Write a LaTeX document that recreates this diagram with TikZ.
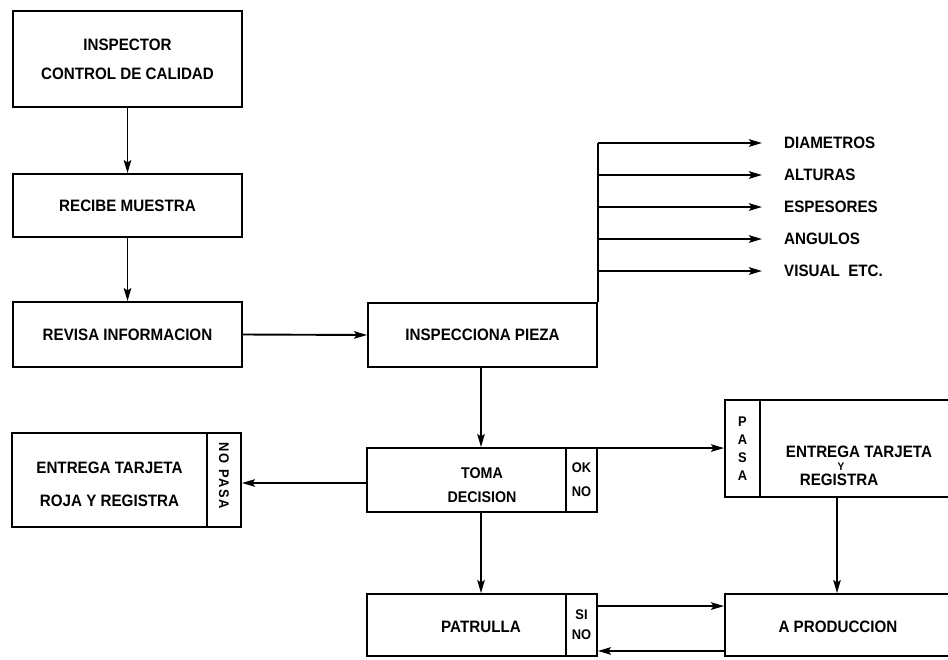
\documentclass[tikz,border=0pt]{standalone}
\usepackage{fontspec}
\setmainfont{Liberation Sans}
\newfontfamily\dgff{Liberation Sans}[FakeStretch=0.92]
\usetikzlibrary{arrows.meta,calc}
\newcommand\dgfont{\dgff\bfseries\fontsize{16.5}{18}\selectfont}
\begin{document}
\begin{tikzpicture}[x=1pt,y=-1pt,
  every node/.style={inner sep=0pt},
  box/.style={draw, line width=1.9pt, rectangle, align=center, font=\dgfont},
  txt/.style={align=center, font=\dgfont},
  arr/.style={line width=1.9pt, -{Stealth[length=13pt,width=7.5pt,inset=2.5pt]}},
  ln/.style={line width=1.9pt}]
\useasboundingbox (0,0) rectangle (948,659);

% left column
\node[box, minimum width=229pt, minimum height=96pt, font=\dgff\bfseries\fontsize{16.5}{29}\selectfont] (insp) at (127.5,59) {INSPECTOR\\CONTROL DE CALIDAD};
\node[box, minimum width=229pt, minimum height=63pt] (recibe) at (127.5,205.5) {RECIBE MUESTRA};
\node[box, minimum width=229pt, minimum height=65pt] (revisa) at (127.5,334.5) {REVISA INFORMACION};

% inspecciona
\node[box, minimum width=229pt, minimum height=64pt] (inspec) at (482.5,335) {INSPECCIONA PIEZA};

% branch labels
\node[txt, anchor=west] (diam) at (784,143) {DIAMETROS};
\node[txt, anchor=west] (alt) at (784,175) {ALTURAS};
\node[txt, anchor=west] (esp) at (784,207) {ESPESORES};
\node[txt, anchor=west] (ang) at (784,239) {ANGULOS};
\node[txt, anchor=west] (vis) at (784,271) {VISUAL\ \ ETC.};

% toma decision
\node[box, minimum width=199pt, minimum height=64pt] (toma) at (466.5,480) {};
\node[txt, font=\dgff\bfseries\fontsize{15.5}{24}\selectfont] (tomat) at (482,485) {TOMA\\DECISION};
\node[box, minimum width=31pt, minimum height=64pt, font=\dgff\bfseries\fontsize{14}{24}\selectfont] (okno) at (581.5,480) {OK\\NO};

% entrega roja
\node[box, minimum width=195pt, minimum height=94pt] (roja) at (109.5,480) {};
\node[txt, font=\dgff\bfseries\fontsize{16.5}{33}\selectfont] (rojat) at (109.5,484) {ENTREGA TARJETA\\ROJA Y REGISTRA};
\node[box, minimum width=34pt, minimum height=94pt] (nopasa) at (224,480) {};
\node[txt, rotate=-90, font=\dgff\bfseries\fontsize{14}{14}\selectfont\addfontfeatures{LetterSpace=12}] (nopasat) at (224,476) {NO PASA};

% pasa
\node[box, minimum width=35pt, minimum height=97pt, font=\dgff\bfseries\fontsize{14}{18}\selectfont] (pasa) at (742.5,448.5) {P\\A\\S\\A};
\node[box, minimum width=200pt, minimum height=97pt] (entrega) at (860,448.5) {};
\node[txt] (entt) at (859,452) {ENTREGA TARJETA};
\node[txt, font=\dgff\bfseries\fontsize{11}{11}\selectfont] (enty) at (841,467) {Y};
\node[txt] (entr) at (839,480) {REGISTRA};

% patrulla
\node[box, minimum width=199pt, minimum height=62pt] (patr) at (466.5,625) {};
\node[txt] (patrt) at (481,627) {PATRULLA};
\node[box, minimum width=31pt, minimum height=62pt, font=\dgff\bfseries\fontsize{14}{20}\selectfont] (sino) at (581.5,625) {SI\\NO};

% produccion
\node[box, minimum width=235pt, minimum height=62pt] (prod) at (842.5,625) {};
\node[txt] (prodt) at (838,627) {A PRODUCCION};

% connectors
\draw[arr] (insp.south) -- (recibe.north);
\draw[arr] (recibe.south) -- (revisa.north);
\draw[arr] (revisa.east) -- (inspec.west);

\draw[ln] (inspec.north east) -- (inspec.north east |- diam.west);
\foreach \n in {diam,alt,esp,ang,vis}
  \draw[arr] (inspec.north east |- \n.west) -- ([xshift=-22pt]\n.west);

\draw[arr] ([xshift=-1.5pt]inspec.south) -- ([xshift=-1.5pt]inspec.south |- toma.north);
\draw[arr] ([yshift=-3pt]toma.west) -- ([yshift=-3pt]toma.west -| nopasa.east);
\draw[arr] ([yshift=-1pt]okno.north east) -- ([yshift=-1pt]okno.north east -| pasa.west);
\draw[arr] ([xshift=-1.5pt]inspec.south |- toma.south) -- ([xshift=-1.5pt]inspec.south |- patr.north);
\draw[arr] ([xshift=-23pt]entrega.south) -- ([xshift=-23pt]entrega.south |- prod.north);
\draw[arr] ([yshift=-13pt]sino.north east) -- ([yshift=-13pt]sino.north east -| prod.west);
\draw[arr] ([yshift=6pt]prod.south west) -- ([yshift=6pt]prod.south west -| sino.east);
\end{tikzpicture}
\end{document}
